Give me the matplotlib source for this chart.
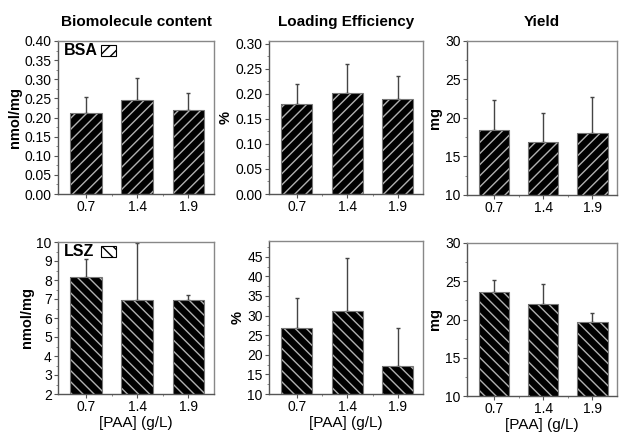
import matplotlib
matplotlib.use("Agg")
import matplotlib.pyplot as plt
from matplotlib.patches import Rectangle
from matplotlib.ticker import AutoMinorLocator, MultipleLocator, FormatStrFormatter
import numpy as np

plt.rcParams['font.family'] = ['Liberation Sans', 'DejaVu Sans']
plt.rcParams['hatch.linewidth'] = 1.0

categories = ["0.7", "1.4", "1.9"]
col_titles = ["Biomolecule content", "Loading Efficiency", "Yield"]

bsa_content = [0.213, 0.245, 0.219]
bsa_content_err = [0.040, 0.057, 0.046]
bsa_loading = [0.180, 0.202, 0.190]
bsa_loading_err = [0.039, 0.057, 0.046]
bsa_yield = [18.4, 16.9, 18.07]
bsa_yield_err = [3.9, 3.7, 4.6]

lsz_content = [8.15, 6.93, 6.93]
lsz_content_err = [0.95, 3.0, 0.27]
lsz_loading = [26.9, 31.2, 17.2]
lsz_loading_err = [7.5, 13.4, 9.6]
lsz_yield = [23.6, 22.0, 19.7]
lsz_yield_err = [1.5, 2.7, 1.1]

ylabels = ["nmol/mg", "%", "mg"]

fig = plt.figure(figsize=(6.2, 4.32), dpi=100)
W, H = 620, 432

def axes_px(l, t, r, b):
    return fig.add_axes([l / W, 1 - b / H, (r - l) / W, (b - t) / H])

rows = [
    dict(data=[(bsa_content, bsa_content_err), (bsa_loading, bsa_loading_err), (bsa_yield, bsa_yield_err)],
         ylims=[(0, 0.40), (0, 0.305), (10, 30)], major=[0.05, 0.05, 5],
         fmt=["%.2f", "%.2f", "%d"], hatch="///", box_hatch="///", label="BSA",
         boxes=[(58, 41, 214, 194), (269, 41, 423, 194), (467, 41, 617, 195)]),
    dict(data=[(lsz_content, lsz_content_err), (lsz_loading, lsz_loading_err), (lsz_yield, lsz_yield_err)],
         ylims=[(2, 10), (10, 49), (10, 30)], major=[1, 5, 5],
         fmt=["%d", "%d", "%d"], hatch="\\\\\\", box_hatch="\\\\\\", label="LSZ",
         boxes=[(58, 242, 214, 394), (269, 241, 423, 394), (467, 243, 617, 396)]),
]

x = np.arange(len(categories))
for r, row in enumerate(rows):
    for c in range(3):
        ax = axes_px(*row["boxes"][c])
        vals, errs = row["data"][c]
        ax.bar(x, vals, width=0.62, color="black", edgecolor="#b0b0b0",
               hatch=row["hatch"], linewidth=0.0, zorder=2)
        ax.bar(x, vals, width=0.62, fill=False, edgecolor="#777777",
               linewidth=0.8, zorder=3)
        ax.errorbar(x, vals, yerr=[np.zeros(3), errs], fmt="none",
                    ecolor="#444444", elinewidth=1.0, capsize=1.5,
                    capthick=1.0, zorder=1)
        ax.set_xlim(-0.55, 2.5)
        ax.set_ylim(*row["ylims"][c])
        ax.yaxis.set_major_locator(MultipleLocator(row["major"][c]))
        ax.yaxis.set_minor_locator(AutoMinorLocator(2))
        ax.yaxis.set_major_formatter(FormatStrFormatter(row["fmt"][c]))
        ax.set_xticks(x)
        ax.set_xticklabels(categories)
        ax.set_xticks([0.5, 1.5], minor=True)
        ax.tick_params(axis="both", which="major", labelsize=10, length=3,
                       width=0.8, color="#555555", pad=1.5)
        ax.tick_params(axis="both", which="minor", length=1.5, width=0.6,
                       color="#777777")
        for s in ["left", "bottom"]:
            ax.spines[s].set_color("#555555")
            ax.spines[s].set_linewidth(1.0)
        for s in ["top", "right"]:
            ax.spines[s].set_color("#888888")
            ax.spines[s].set_linewidth(1.0)
        ax.set_ylabel(ylabels[c], fontsize=10.5, fontweight="bold", labelpad=2)
        if r == 0:
            ax.set_title(col_titles[c], fontsize=11, fontweight="bold", pad=11)
        else:
            ax.set_xlabel("[PAA] (g/L)", fontsize=11, labelpad=1)
        if c == 0:
            ax.text(0.04, 0.985, row["label"], transform=ax.transAxes,
                    fontsize=11.5, fontweight="bold", va="top", ha="left")
            ax.add_patch(Rectangle((0.276, 0.902), 0.096, 0.072, transform=ax.transAxes,
                                   facecolor="white", edgecolor="black",
                                   hatch=row["box_hatch"], linewidth=0.8, zorder=5))

fig.savefig("out.png", dpi=100)
